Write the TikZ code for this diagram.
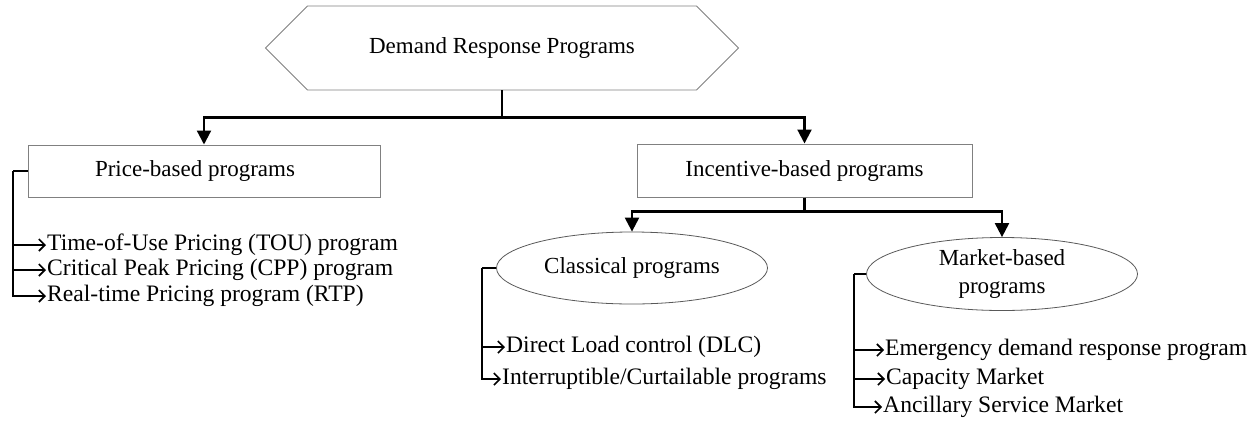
\documentclass[tikz,border=0pt]{standalone}
\usepackage{fontspec}
\setmainfont{Liberation Serif}
\usetikzlibrary{shapes.geometric,shapes.symbols,arrows.meta}

\begin{document}
\begin{tikzpicture}[x=1pt,y=-1pt,
  every node/.style={font=\fontsize{23}{28}\selectfont},
  boxnode/.style={draw=black!50,line width=1pt,rectangle,inner sep=0pt},
  ovalnode/.style={draw=black!65,line width=0.8pt,ellipse,inner sep=0pt,align=center},
  itemnode/.style={anchor=west,inner xsep=1pt,inner ysep=0pt,font=\fontsize{23.6}{28}\selectfont},
  mainlink/.style={line width=2.2pt,-{Triangle[length=14pt,width=14pt]}},
  branch/.style={line width=1.7pt},
  itemarrow/.style={line width=1.7pt,-{Straight Barb[length=6pt,width=12pt,line width=1.6pt]}}]
\useasboundingbox (0,0) rectangle (1258,421);

% top level
\node[signal,signal to=west and east,draw=black!50,line width=0.8pt,
      minimum width=473pt,minimum height=84pt,inner sep=0pt] (root) at (502,48) {Demand Response Programs};

% second level
\node[boxnode,minimum width=352pt,minimum height=52pt] (price) at (204,171) {\hspace*{-18pt}Price-based programs};
\node[boxnode,minimum width=335pt,minimum height=53pt] (inc) at (804.5,170.5) {Incentive-based programs};

% third level
\node[ovalnode,minimum width=271pt,minimum height=72pt] (cls) at (632,268) {Classical programs};
\node[ovalnode,minimum width=271pt,minimum height=73pt] (mkt) at (1002,274) {Market-based\\programs};

% price-based items
\node[itemnode] (tou) at (46,245) {Time-of-Use Pricing (TOU) program};
\node[itemnode] (cpp) at (46,270) {Critical Peak Pricing (CPP) program};
\node[itemnode] (rtp) at (46,296) {Real-time Pricing program (RTP)};

% classical items
\node[itemnode] (dlc) at (505,347) {Direct Load control (DLC)};
\node[itemnode] (icp) at (501,379) {Interruptible/Curtailable programs};

% market-based items
\node[itemnode] (edrp) at (884,350) {Emergency demand response program};
\node[itemnode] (cap) at (885,379) {Capacity Market};
\node[itemnode] (anc) at (882,407) {Ancillary Service Market};

% tree connectors
\draw[mainlink] (root.south) -- ++(0,27) -| (price.north);
\draw[mainlink] (root.south) -- ++(0,27) -| (inc.north);
\draw[mainlink] (inc.south) -- ++(0,14) -| (cls.north);
\draw[mainlink] (inc.south) -- ++(0,14) -| (mkt.north);

% item brackets
\coordinate (pb) at (13,171);
\draw[branch] (price.west) -- (pb);
\draw[itemarrow] (pb) |- (rtp.west);
\draw[itemarrow] (pb |- tou.west) -- (tou.west);
\draw[itemarrow] (pb |- cpp.west) -- (cpp.west);

\coordinate (cb) at (482,268);
\draw[branch] (cls.west) -- (cb);
\draw[itemarrow] (cb) |- (icp.west);
\draw[itemarrow] (cb |- dlc.west) -- (dlc.west);

\coordinate (mb) at (854,274);
\draw[branch] (mkt.west) -- (mb);
\draw[itemarrow] (mb) |- (anc.west);
\draw[itemarrow] (mb |- edrp.west) -- (edrp.west);
\draw[itemarrow] (mb |- cap.west) -- (cap.west);
\end{tikzpicture}
\end{document}
